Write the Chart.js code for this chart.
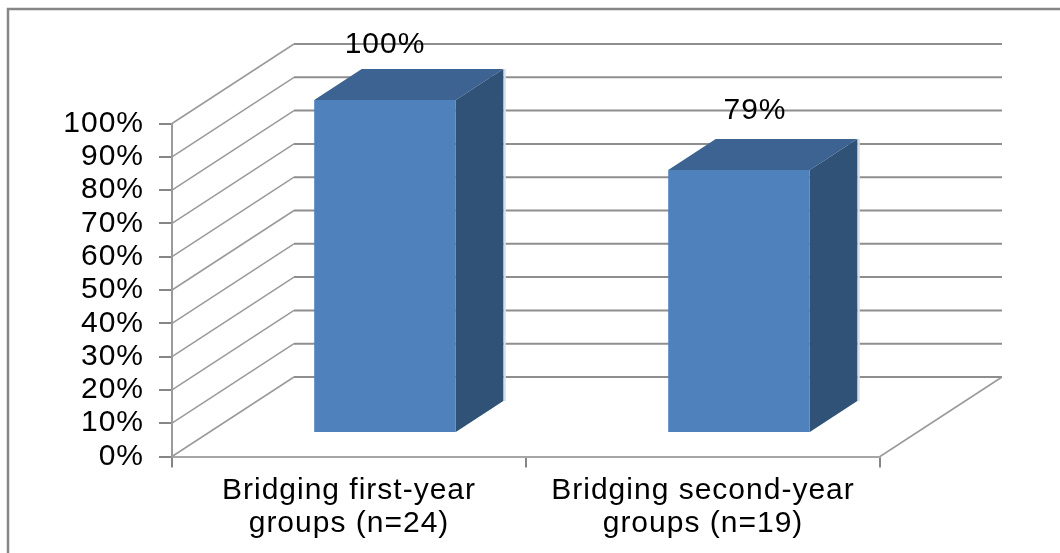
<!DOCTYPE html>
<html>
<head>
<meta charset="utf-8">
<style>html,body{margin:0;padding:0;background:#fff;overflow:hidden}canvas{display:block}</style>
<script src="https://cdn.jsdelivr.net/npm/chart.js@4"></script>
</head>
<body>
<canvas id="c" width="1060" height="553" style="width:1060px;height:553px"></canvas>
<script>
const categories = [["Bridging first-year", "groups (n=24)"], ["Bridging second-year", "groups (n=19)"]];
const shares = [100, 79];
const dataLabels = ["100%", "79%"];

const FAMILY = '"Liberation Sans", Arial, sans-serif';
const SIZE = 30;
const WALL = {dx: 122, dy: -79.5};
const BAR_SHIFT = {dx: 36, dy: -23.5};
const BAR_DEPTH = {dx: 47.5, dy: -31};
const LABEL_SHIFT = [{dx: 0, dy: -55}, {dx: 16, dy: -59}];

const depthPlugin = {
  id: 'depth',
  beforeDraw(chart) {
    const ctx = chart.ctx;
    ctx.letterSpacing = '1px';
    ctx.save();
    ctx.strokeStyle = '#868686';
    ctx.lineWidth = 2.5;
    ctx.beginPath();
    ctx.moveTo(8, 553); ctx.lineTo(8, 9); ctx.lineTo(1060, 9);
    ctx.stroke();
    ctx.restore();
  },
  beforeDatasetsDraw(chart) {
    const ctx = chart.ctx, y = chart.scales.y, a = chart.chartArea;
    ctx.save();
    y.ticks.forEach(t => {
      const py = y.getPixelForValue(t.value);
      ctx.strokeStyle = '#9a9a9a'; ctx.lineWidth = 1.5;
      ctx.beginPath(); ctx.moveTo(a.left, py); ctx.lineTo(a.left + WALL.dx, py + WALL.dy); ctx.stroke();
      ctx.strokeStyle = '#8e8e8e'; ctx.lineWidth = 2;
      ctx.beginPath(); ctx.moveTo(a.left + WALL.dx, py + WALL.dy); ctx.lineTo(a.right + WALL.dx, py + WALL.dy); ctx.stroke();
    });
    const base = y.getPixelForValue(0);
    ctx.strokeStyle = '#9a9a9a'; ctx.lineWidth = 1.5;
    ctx.beginPath(); ctx.moveTo(a.right, base); ctx.lineTo(a.right + WALL.dx, base + WALL.dy); ctx.stroke();
    ctx.restore();

    ctx.save();
    ctx.translate(BAR_SHIFT.dx, BAR_SHIFT.dy);
    chart.getDatasetMeta(0).data.forEach(b => {
      const l = b.x - b.width / 2, r = b.x + b.width / 2, t = b.y, bt = b.base;
      const dx = BAR_DEPTH.dx, dy = BAR_DEPTH.dy;
      ctx.fillStyle = '#d9dfe8';
      ctx.fillRect(r + dx, t + dy, 2.5, bt - t);
      ctx.fillStyle = '#3c6392';
      ctx.beginPath();
      ctx.moveTo(l, t); ctx.lineTo(l + dx, t + dy); ctx.lineTo(r + dx, t + dy); ctx.lineTo(r, t);
      ctx.closePath(); ctx.fill();
      ctx.fillStyle = '#305277';
      ctx.beginPath();
      ctx.moveTo(r, t); ctx.lineTo(r + dx, t + dy); ctx.lineTo(r + dx, bt + dy); ctx.lineTo(r, bt);
      ctx.closePath(); ctx.fill();
    });
  },
  afterDatasetsDraw(chart) {
    const ctx = chart.ctx;
    ctx.restore();
    ctx.save();
    ctx.font = SIZE + 'px ' + FAMILY;
    ctx.fillStyle = '#000';
    ctx.textAlign = 'center';
    ctx.textBaseline = 'middle';
    chart.getDatasetMeta(0).data.forEach((b, i) => {
      ctx.fillText(dataLabels[i], b.x + BAR_SHIFT.dx + LABEL_SHIFT[i].dx, b.y + BAR_SHIFT.dy + LABEL_SHIFT[i].dy);
    });
    ctx.restore();
  }
};

new Chart(document.getElementById('c'), {
  type: 'bar',
  data: {
    labels: categories,
    datasets: [{
      data: shares,
      backgroundColor: '#4f81bd',
      borderWidth: 0,
      barPercentage: 0.4,
      categoryPercentage: 1,
      clip: false
    }]
  },
  options: {
    responsive: false,
    animation: false,
    layout: {padding: {top: 123.5, right: 180, left: 0, bottom: 0}},
    plugins: {legend: {display: false}, tooltip: {enabled: false}, title: {display: false}},
    scales: {
      x: {
        afterFit: s => { s.height = 96.5; },
        border: {color: '#a6a6a6', width: 2},
        grid: {drawOnChartArea: false, color: '#868686', tickLength: 11, lineWidth: 2},
        ticks: {color: '#000', font: {family: FAMILY, size: SIZE, lineHeight: 1.1}, padding: 7, maxRotation: 0, autoSkip: false}
      },
      y: {
        min: 0, max: 100,
        afterFit: s => { s.width = 172; },
        border: {color: '#9a9a9a', width: 2},
        grid: {drawOnChartArea: false, color: '#868686', tickLength: 13, lineWidth: 2},
        ticks: {color: '#000', stepSize: 10, autoSkip: false, font: {family: FAMILY, size: SIZE}, padding: 15, callback: v => v + '%'}
      }
    }
  },
  plugins: [depthPlugin]
});
</script>
</body>
</html>
